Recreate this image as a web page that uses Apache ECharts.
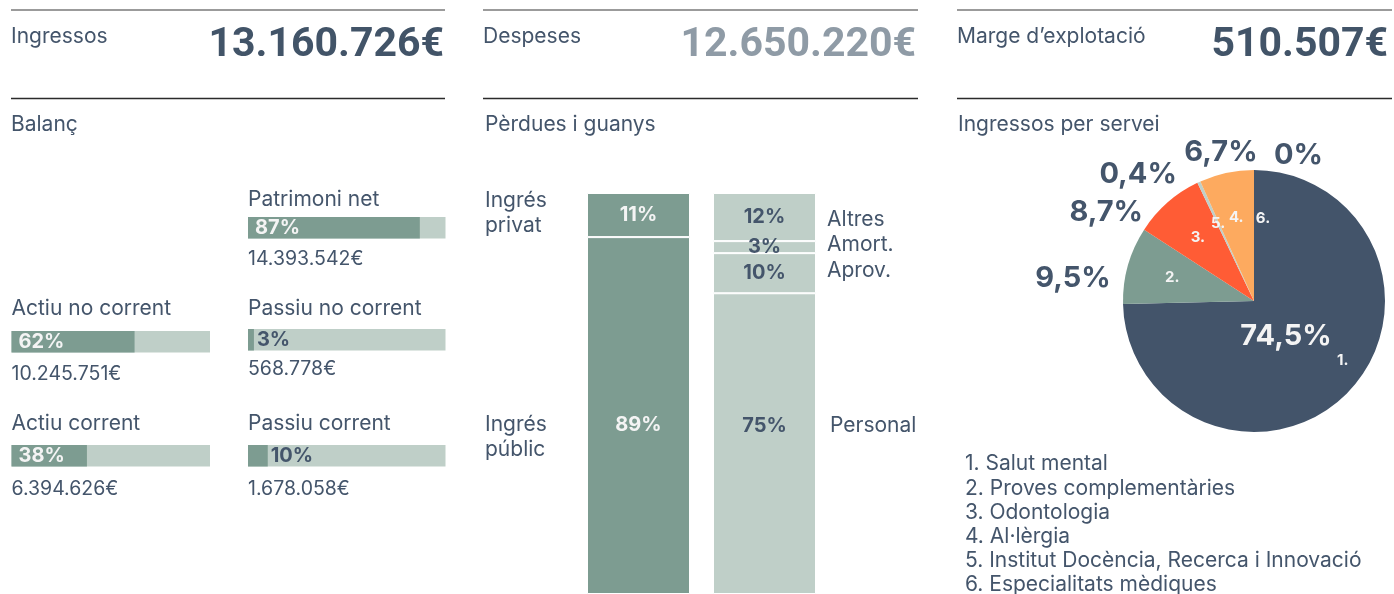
<!DOCTYPE html>
<html>
<head>
<meta charset="utf-8">
<script src="https://cdn.jsdelivr.net/npm/echarts@6/dist/echarts.min.js"></script>
<style>
  html, body { margin: 0; padding: 0; background: #fff; }
  #chart { width: 1394px; height: 594px; }
</style>
</head>
<body>
<div id="chart"></div>
<script>
// indicadors de capçalera
const kpiNames = ['Ingressos', 'Despeses', 'Marge d’explotació']
const kpiValues = [13160726, 12650220, 510507]
const sectionTitles = ['Balanç', 'Pèrdues i guanys', 'Ingressos per servei']

// balanç
const balanceNames = ['Patrimoni net', 'Actiu no corrent', 'Passiu no corrent', 'Actiu corrent', 'Passiu corrent']
const balanceShares = [87, 62, 3, 38, 10]
const balanceAmounts = [14393542, 10245751, 568778, 6394626, 1678058]

// pèrdues i guanys (de baix a dalt)
const incomeNames = ['Ingrés públic', 'Ingrés privat']
const incomeShares = [89, 11]
const expenseNames = ['Personal', 'Aprov.', 'Amort.', 'Altres']
const expenseShares = [75, 10, 3, 12]

// ingressos per servei
const serviceNames = ['Salut mental', 'Proves complementàries', 'Odontologia', 'Al·lèrgia', 'Institut Docència, Recerca i Innovació', 'Especialitats mèdiques']
const serviceShares = [74.5, 9.5, 8.7, 6.7, 0.4, 0]
const pieOrder = [0, 1, 2, 4, 3, 5]  // ordre dels sectors al pastís

// estil
const TEXT = '#44556b'
const DARK_GREEN = '#7d9c91'
const LIGHT_GREEN = '#bfcfc8'
const FONT = 'Inter'
const serviceColors = ['#43546a', '#7d9c91', '#ff5c35', '#fdaa5f', '#bfcfc8', '#43546a']
const kpiColors = ['#425468', '#8f9ba6', '#425468']
const cols = [{ x: 11, right: 445, numRight: 444 }, { x: 483, right: 918, numRight: 916 }, { x: 957, right: 1392, numRight: 1388 }]
const titleX = [11, 485, 958]
const balanceBoxes = [
  { x: 248, y: 217, w: 197.5, nameY: 200, amountY: 259 },
  { x: 11.5, y: 331, w: 198.5, nameY: 309, amountY: 374 },
  { x: 248, y: 329, w: 197.5, nameY: 309, amountY: 369 },
  { x: 11.5, y: 445, w: 198.5, nameY: 424, amountY: 489 },
  { x: 248, y: 445, w: 197.5, nameY: 424, amountY: 489 }
]
const BAR_H = 21.5

const fmtEuro = v => String(v).replace(/\B(?=(\d{3})+(?!\d))/g, '.') + '€'
const fmtPct = v => String(v).replace('.', ',') + '%'

const chart = echarts.init(document.getElementById('chart'))

const grid = []
const xAxis = []
const yAxis = []
const series = []
const graphic = []

// línies i capçaleres
cols.forEach((c, i) => {
  graphic.push({ type: 'line', shape: { x1: c.x, y1: 10, x2: c.right, y2: 10 }, style: { stroke: '#9b9b9b', lineWidth: 2 } })
  graphic.push({ type: 'line', shape: { x1: c.x, y1: 98.5, x2: c.right, y2: 98.5 }, style: { stroke: '#2b2b2b', lineWidth: 1.5 } })
  graphic.push({ type: 'text', x: c.x, y: 37, style: { text: kpiNames[i], fill: TEXT, font: '21px ' + FONT, verticalAlign: 'middle' } })
  graphic.push({ type: 'text', x: c.numRight, y: 45.5, style: { text: fmtEuro(kpiValues[i]), fill: kpiColors[i], font: 'bold 41px Roboto', align: 'right', verticalAlign: 'middle' } })
  graphic.push({ type: 'text', x: titleX[i], y: 125, style: { text: sectionTitles[i], fill: TEXT, font: '21px ' + FONT, verticalAlign: 'middle' } })
})

// balanç: una graella per barra
balanceNames.forEach((n, i) => {
  const b = balanceBoxes[i]
  const big = balanceShares[i] >= 30
  grid.push({ left: b.x, top: b.y, width: b.w, height: BAR_H })
  xAxis.push({ type: 'value', min: 0, max: 100, show: false, gridIndex: i })
  yAxis.push({ type: 'category', data: [n], show: false, gridIndex: i })
  series.push({
    type: 'bar', name: n, xAxisIndex: i, yAxisIndex: i,
    data: [balanceShares[i]], barWidth: '100%', silent: true,
    showBackground: true, backgroundStyle: { color: LIGHT_GREEN },
    itemStyle: { color: DARK_GREEN },
    label: {
      show: true, position: big ? 'insideLeft' : 'right', distance: big ? 7 : 3,
      formatter: '{c}%', color: big ? '#f4f4f4' : TEXT,
      fontFamily: FONT, fontWeight: 'bold', fontSize: 20
    }
  })
  graphic.push({ type: 'text', x: b.x, y: b.nameY, style: { text: n, fill: TEXT, font: '21px ' + FONT, verticalAlign: 'middle' } })
  graphic.push({ type: 'text', x: b.x, y: b.amountY, style: { text: fmtEuro(balanceAmounts[i]), fill: TEXT, font: '19.5px ' + FONT, verticalAlign: 'middle' } })
})

// pèrdues i guanys: dues barres apilades
const gi = balanceNames.length
grid.push({ left: 575.5, width: 252, top: 193, bottom: 0 })
xAxis.push({ type: 'category', data: ['ingressos', 'despeses'], show: false, gridIndex: gi })
yAxis.push({ type: 'value', min: 0, max: 100, show: false, gridIndex: gi })

const pctOffset = { 'Ingrés públic': [0, 9.5], 'Personal': [0, -17.5] }
const nameOffset = { 'Ingrés públic': [0, 21.5], 'Ingrés privat': [0, -2], 'Altres': [0, 3], 'Amort.': [0, -2], 'Personal': [0, -17.5], 'Aprov.': [0, -3] }

const addStack = (names, shares, col, color, labelColor, sideLeft) => {
  names.forEach((n, i) => {
    const data = col === 0 ? [shares[i], '-'] : ['-', shares[i]]
    series.push({
      type: 'bar', name: n, xAxisIndex: gi, yAxisIndex: gi, stack: 'pct',
      barWidth: 103, barGap: '-100%', silent: true, data,
      itemStyle: { color, borderColor: '#fff', borderWidth: 1 },
      label: {
        show: true, position: 'inside', formatter: '{c}%', color: labelColor,
        fontFamily: FONT, fontWeight: 'bold', fontSize: 20, offset: pctOffset[n] || [0, 0]
      }
    })
    // noms al costat de la barra
    series.push({
      type: 'bar', name: n, xAxisIndex: gi, yAxisIndex: gi, stack: 'names',
      barWidth: 103, barGap: '-100%', silent: true, data,
      itemStyle: { color: 'transparent' },
      label: sideLeft ? {
        show: true, position: 'left', distance: 102, align: 'left',
        formatter: p => p.seriesName.replace(' ', '\n'), lineHeight: 24.5,
        color: TEXT, fontFamily: FONT, fontSize: 21, offset: nameOffset[n] || [0, 0]
      } : {
        show: true, position: 'right', distance: n === 'Personal' ? 14 : 11,
        formatter: '{a}', color: TEXT, fontFamily: FONT, fontSize: 21, offset: nameOffset[n] || [0, 0]
      }
    })
  })
}
addStack(incomeNames, incomeShares, 0, DARK_GREEN, '#f4f4f4', true)
addStack(expenseNames, expenseShares, 1, LIGHT_GREEN, TEXT, false)

// ingressos per servei
const pctLabelOffset = { 0: [-17, -13], 1: [1, 18], 2: [-12, 24], 4: [-14, 9], 3: [35, -2], 5: [20, 4] }
const numLabelOffset = { 0: [28, 0], 5: [9, 2] }

series.push({
  type: 'pie', center: [1254, 301], radius: 131, startAngle: 90, clockwise: true,
  avoidLabelOverlap: false, silent: true,
  labelLayout: { hideOverlap: false },
  data: pieOrder.map(k => ({
    name: serviceNames[k], value: serviceShares[k],
    itemStyle: { color: serviceColors[k] },
    label: k === 0
      ? { position: 'inside', color: '#f4f4f4', offset: pctLabelOffset[0] }
      : { offset: pctLabelOffset[k] || [0, 0] }
  })),
  label: {
    show: true, position: 'outer', formatter: p => fmtPct(p.value),
    color: TEXT, fontFamily: FONT, fontWeight: 'bold', fontSize: 29, distanceToLabelLine: 0
  },
  labelLine: { show: false, length: 19, length2: 0 }
})
series.push({
  type: 'pie', center: [1254, 301], radius: [0, 164], startAngle: 90, clockwise: true,
  avoidLabelOverlap: false, silent: true,
  labelLayout: { hideOverlap: false },
  itemStyle: { color: 'transparent' },
  data: pieOrder.map(k => ({
    name: serviceNames[k], value: serviceShares[k],
    label: { offset: numLabelOffset[k] || [0, 0] }
  })),
  label: {
    show: true, position: 'inside', formatter: p => (serviceNames.indexOf(p.name) + 1) + '.',
    color: '#f4f4f4', fontFamily: FONT, fontWeight: 'bold', fontSize: 15
  },
  labelLine: { show: false }
})

const option = {
  animation: false,
  textStyle: { fontFamily: FONT },
  grid, xAxis, yAxis, series, graphic,
  legend: {
    data: serviceNames, orient: 'vertical', left: 955, top: 447, height: 170,
    itemWidth: 0, itemHeight: 0, itemGap: 0, selectedMode: false,
    formatter: n => (serviceNames.indexOf(n) + 1) + '. ' + n,
    textStyle: { color: TEXT, fontFamily: FONT, fontSize: 21, lineHeight: 24.2 }
  }
}

chart.setOption(option)
window.addEventListener('resize', () => chart.resize())
</script>
</body>
</html>
